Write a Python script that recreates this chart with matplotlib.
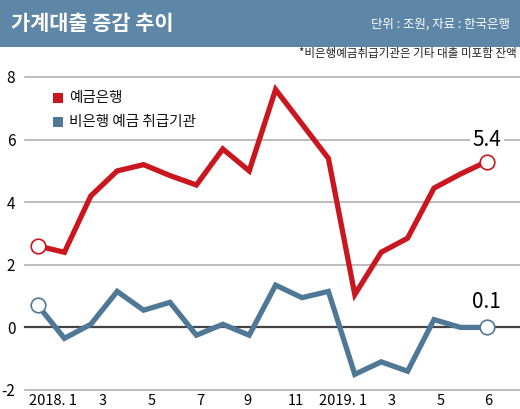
import matplotlib
matplotlib.use("Agg")
import matplotlib.pyplot as plt
from matplotlib.patches import Rectangle

plt.rcParams['font.family'] = ['Noto Sans CJK KR', 'DejaVu Sans']

# monthly change, 2018.1 .. 2019.6 (조원)
months = list(range(18))
bank = [2.6, 2.4, 4.2, 5.0, 5.2, 4.85, 4.55, 5.7, 5.0, 7.6, 6.5, 5.4,
        1.05, 2.4, 2.85, 4.45, 4.9, 5.3]
nonbank = [0.7, -0.35, 0.1, 1.15, 0.55, 0.8, -0.25, 0.1, -0.25, 1.35, 0.95,
           1.15, -1.5, -1.1, -1.4, 0.25, 0.0, 0.0]

tick_pos = [0.55, 2.45, 4.3, 6.15, 7.95, 9.75, 11.55, 13.4, 15.25, 17.05]
tick_labels = ["2018. 1", "3", "5", "7", "9", "11", "2019. 1", "3", "5", "6"]
yticks = [-2, 0, 2, 4, 6, 8]

last_bank_label = "5.4"
last_nonbank_label = "0.1"

RED = "#c9161f"
BLUE = "#4f7896"
BANNER = "#5d86a7"

W, H = 520, 409
fig = plt.figure(figsize=(W / 100, H / 100), dpi=100)
fig.patch.set_facecolor("white")

# title banner
fig.patches.append(Rectangle((0, 1 - 47 / H), 1, 47 / H, transform=fig.transFigure,
                             facecolor=BANNER, edgecolor="none", zorder=0))
fig.text(11 / W, 1 - 23 / H, "가계대출 증감 추이", color="white", fontsize=15,
         fontweight="bold", va="center", ha="left")
fig.text(510 / W, 1 - 24 / H, "단위 : 조원, 자료 : 한국은행", color="white",
         fontsize=9, va="center", ha="right")
fig.text(517 / W, 1 - 53 / H, "*비은행예금취급기관은 기타 대출 미포함 잔액",
         color="#222222", fontsize=8.3, va="center", ha="right")

ax = fig.add_axes([25 / W, (H - 390) / H, 495 / W, (390 - 77) / H])
ax.set_xlim(-13 / 26.4, (520 - 38) / 26.4)
ax.set_ylim(-2, 8)
for s in ax.spines.values():
    s.set_visible(False)

for y in yticks:
    ax.axhline(y, color="#444444" if y == 0 else "#a9a9a9",
               lw=1.6 if y == 0 else 1.1, zorder=1, clip_on=False)

ax.set_yticks(yticks)
ax.set_yticklabels([str(y) for y in yticks], fontsize=11)
ax.tick_params(axis="y", length=0, pad=7)
ax.set_xticks(tick_pos)
ax.set_xticklabels(tick_labels, fontsize=10.5)
ax.tick_params(axis="x", length=0, pad=3)

ax.plot(months, bank, color=RED, lw=3.8, solid_joinstyle="miter", zorder=3, clip_on=False)
ax.plot(months, nonbank, color=BLUE, lw=3.8, solid_joinstyle="miter", zorder=3, clip_on=False)
for series, c in ((bank, RED), (nonbank, BLUE)):
    ax.plot([months[0], months[-1]], [series[0], series[-1]], "o", ms=10.5,
            mfc="white", mec=c, mew=1.2, zorder=4, clip_on=False)

ax.text(months[-1], 6.0, last_bank_label, fontsize=15, ha="center", va="center",
        zorder=5, bbox=dict(facecolor="white", edgecolor="none", pad=2))
ax.text(months[-1], 0.8, last_nonbank_label, fontsize=15, ha="center", va="center",
        zorder=5)

# legend
for i, (lab, c) in enumerate((("예금은행", RED), ("비은행 예금 취급기관", BLUE))):
    yy = 1 - (98 + i * 24) / H
    fig.patches.append(Rectangle((53 / W, yy - 5 / H), 10 / W, 10 / H,
                                 transform=fig.transFigure, facecolor=c,
                                 edgecolor="none"))
    fig.text(69 / W, yy, lab, fontsize=10.5, va="center", ha="left", color="#111111")

fig.savefig("out.png", dpi=100)
